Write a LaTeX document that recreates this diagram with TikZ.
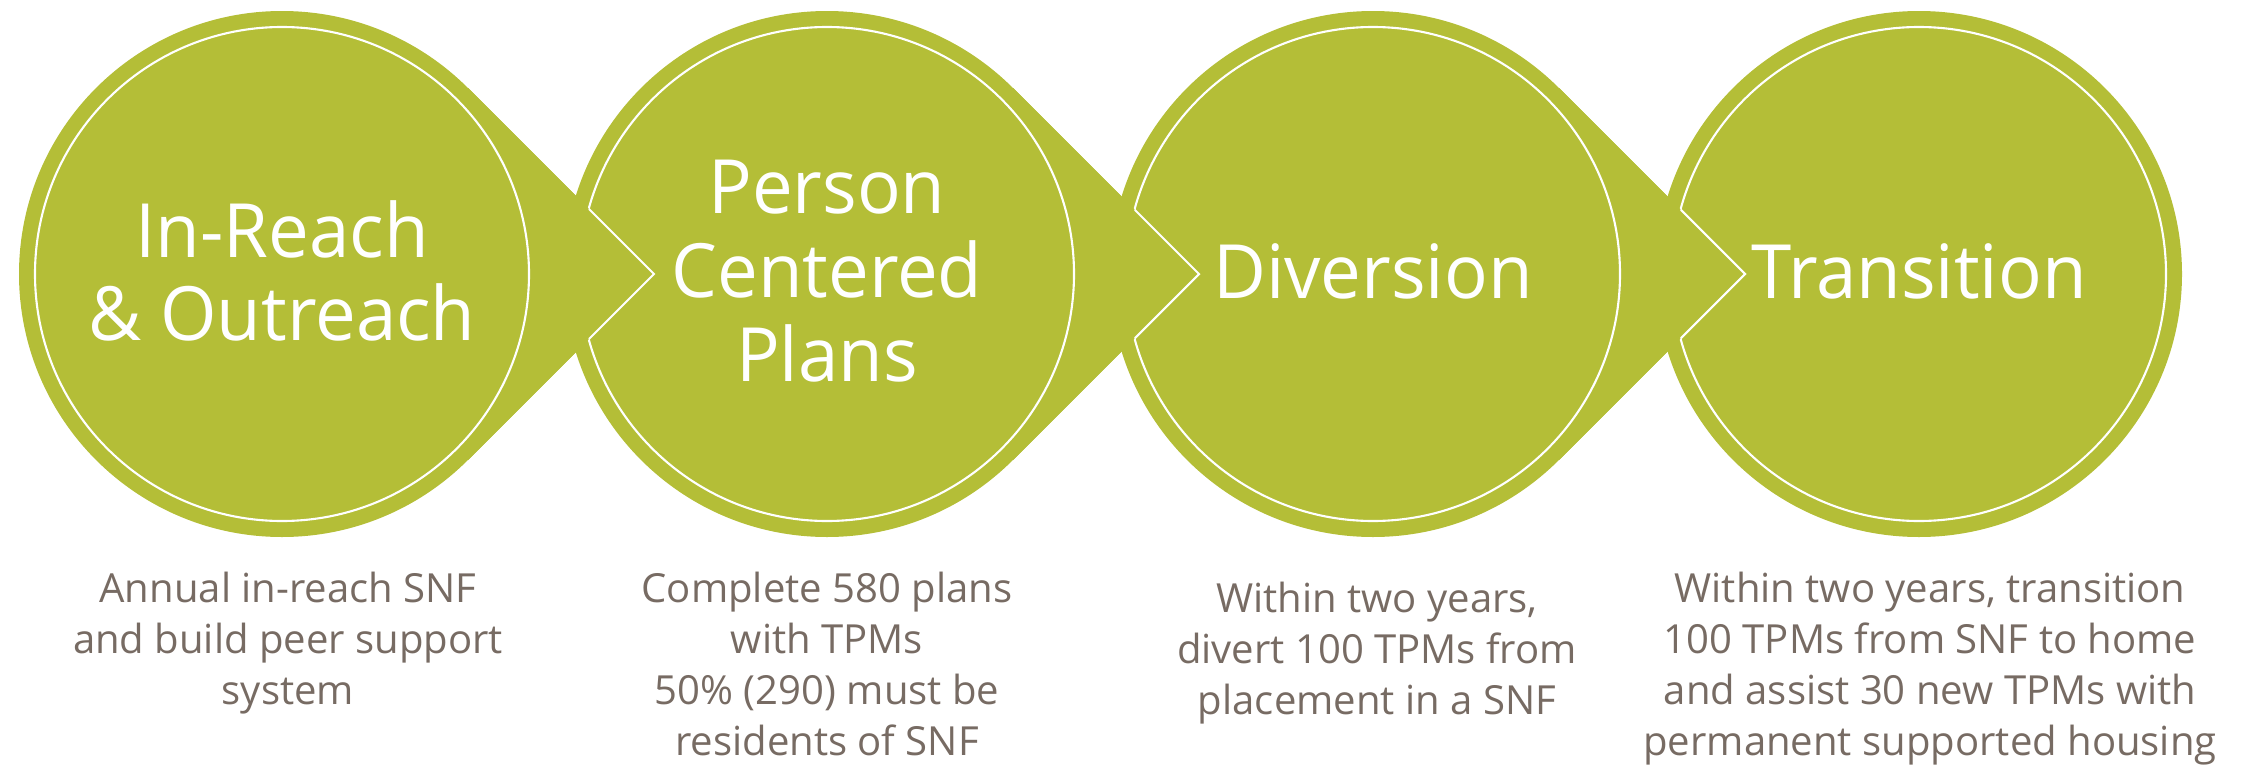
\documentclass[tikz,border=0pt]{standalone}
\usepackage{fontspec}
\setmainfont{Open Sans}
\definecolor{stepgreen}{HTML}{B4BE37}
\definecolor{notegray}{HTML}{776B63}
\tikzset{
  steptitle/.style={text=white,align=center,xscale=0.97,font=\fontsize{21.3}{23.8}\selectfont},
  stepnote/.style={text=notegray,align=center,anchor=north,inner sep=0pt,font=\fontsize{11.4}{14.5}\selectfont},
  ring/.style={draw=white,line width=0.6pt}
}
\begin{document}
\begin{tikzpicture}
	\useasboundingbox (0,0) rectangle (22.42,7.67);
	% green discs and pointers
	\fill [stepgreen] (2.82,4.93) circle (2.63);
	\fill [stepgreen] (8.27,4.93) circle (2.63);
	\fill [stepgreen] (13.73,4.93) circle (2.63);
	\fill [stepgreen] (19.19,4.93) circle (2.63);
	\fill [stepgreen] (4.68,6.79) -- (6.54,4.93) -- (4.68,3.07) -- cycle;
	\fill [stepgreen] (10.13,6.79) -- (11.99,4.93) -- (10.13,3.07) -- cycle;
	\fill [stepgreen] (15.59,6.79) -- (17.45,4.93) -- (15.59,3.07) -- cycle;
	% white inner rings
	\draw [ring] (2.82,4.93) circle (2.47);
	\draw [ring] (8.27,4.93) circle (2.47);
	\draw [ring] (13.73,4.93) circle (2.47);
	\draw [ring] (19.19,4.93) circle (2.47);
	% pointers lie over the next disc
	\fill [stepgreen] (4.68,6.79) -- (6.54,4.93) -- (4.68,3.07) arc [start angle=-45,end angle=45,radius=2.63] -- cycle;
	\fill [stepgreen] (10.13,6.79) -- (11.99,4.93) -- (10.13,3.07) arc [start angle=-45,end angle=45,radius=2.63] -- cycle;
	\fill [stepgreen] (15.59,6.79) -- (17.45,4.93) -- (15.59,3.07) arc [start angle=-45,end angle=45,radius=2.63] -- cycle;
	\begin{scope}
		\clip (8.27,4.93) circle (2.47);
		\draw [ring] (4.68,6.79) -- (6.54,4.93) -- (4.68,3.07);
	\end{scope}
	\begin{scope}
		\clip (13.73,4.93) circle (2.47);
		\draw [ring] (10.13,6.79) -- (11.99,4.93) -- (10.13,3.07);
	\end{scope}
	\begin{scope}
		\clip (19.19,4.93) circle (2.47);
		\draw [ring] (15.59,6.79) -- (17.45,4.93) -- (15.59,3.07);
	\end{scope}
	% titles
	\node [steptitle] (reach) at (2.82,4.96) {In-Reach\\\& Outreach};
	\node [steptitle] (plans) at (8.27,4.96) {Person\\Centered\\Plans};
	\node [steptitle] (diversion) at (13.73,4.96) {Diversion};
	\node [steptitle] (transition) at (19.19,4.96) {Transition};
	% goals below
	\node [stepnote] (reachgoal) at (2.88,1.96) {Annual in-reach SNF\\and build peer support\\system};
	\node [stepnote] (plansgoal) at (8.27,1.96) {Complete 580 plans\\with TPMs\\50\% (290) must be\\residents of SNF};
	\node [stepnote] (diversiongoal) at (13.77,1.86) {Within two years,\\divert 100 TPMs from\\placement in a SNF};
	\node [stepnote] (transitiongoal) at (19.30,1.96) {Within two years, transition\\100 TPMs from SNF to home\\and assist 30 new TPMs with\\permanent supported housing};
\end{tikzpicture}
\end{document}
